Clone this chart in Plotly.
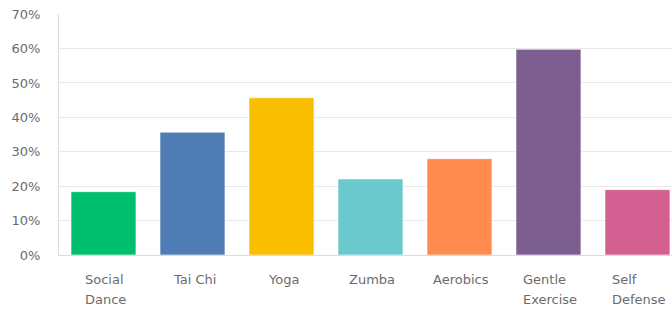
import plotly.graph_objects as go

categories = ["Social Dance", "Tai Chi", "Yoga", "Zumba", "Aerobics", "Gentle Exercise", "Self Defense"]
tick_labels = ["Social<br>Dance", "Tai Chi", "Yoga", "Zumba", "Aerobics", "Gentle<br>Exercise", "Self<br>Defense"]
values = [18.4, 35.7, 45.7, 22.1, 28.0, 59.8, 19.0]
y_ticks = [0, 10, 20, 30, 40, 50, 60, 70]
colors = ["#00BF6F", "#507CB6", "#F9BE00", "#6BC8CD", "#FF8B4F", "#7D5E90", "#D25F90"]

FONT = "DejaVu Sans"
GRAY = "#6b6b6b"

fig = go.Figure(go.Bar(
    x=categories, y=values, width=0.73,
    marker=dict(color=colors, line=dict(color="rgba(255,255,255,0.6)", width=1)),
    hoverinfo="skip",
))

annotations = []
for cat, lab in zip(categories, tick_labels):
    parts = lab.split("<br>")
    txt = "<br>".join(f'<span style="font-size:13px">{p}</span>' for p in parts)
    annotations.append(dict(
        x=cat, xref="x", y=0, yref="paper", yanchor="top", xanchor="center",
        yshift=-15, xshift=2, text=txt, align="left", showarrow=False,
        font=dict(family=FONT, size=15, color=GRAY),
    ))

fig.update_layout(
    width=672, height=312,
    margin=dict(l=59, r=0, t=13.5, b=56.5),
    paper_bgcolor="white", plot_bgcolor="white",
    showlegend=False,
    annotations=annotations,
    xaxis=dict(
        type="category", range=[-0.5, 6.388], showticklabels=False,
        showline=True, linecolor="#dcdcdc", linewidth=1, showgrid=False, ticks="",
    ),
    yaxis=dict(
        range=[0, 70.05], tickmode="array", tickvals=y_ticks,
        ticktext=[f"{v}%" for v in y_ticks],
        showline=True, linecolor="#dcdcdc", linewidth=1,
        showgrid=True, gridcolor="#e8e8e8", gridwidth=1, zeroline=False,
        tickfont=dict(family=FONT, size=13, color=GRAY),
        ticks="", ticklabelstandoff=15,
    ),
)

fig.write_html(
    "out.html",
    config={"displayModeBar": False},
    post_script="document.body.style.margin='0';document.body.style.overflow='hidden';",
)
